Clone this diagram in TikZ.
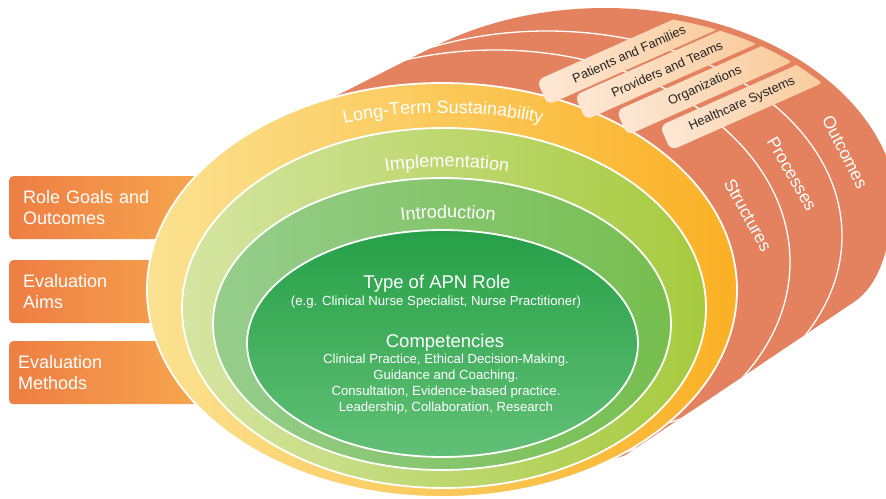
\documentclass[tikz,border=0pt]{standalone}
\usepackage{fontspec}
\setmainfont{Liberation Sans}
\usetikzlibrary{calc, decorations.text}

\definecolor{goalleft}{RGB}{238,126,68}
\definecolor{goalright}{RGB}{246,168,78}
\definecolor{cylorange}{RGB}{228,130,95}
\definecolor{tableft}{RGB}{253,232,214}
\definecolor{tabright}{RGB}{249,203,156}
\definecolor{tabtext}{RGB}{35,35,35}
\definecolor{sustleft}{RGB}{251,226,145}
\definecolor{sustright}{RGB}{251,176,36}
\definecolor{implleft}{RGB}{214,229,162}
\definecolor{implright}{RGB}{166,202,62}
\definecolor{introleft}{RGB}{150,205,140}
\definecolor{introright}{RGB}{118,190,78}
\definecolor{roletop}{RGB}{38,160,72}
\definecolor{rolebottom}{RGB}{98,192,118}

\newcommand{\ringfont}{\fontsize{18}{20}\selectfont\color{white}}

\begin{document}
\begin{tikzpicture}[x=1pt, y=-1pt,
    goalbox/.style={rectangle, rounded corners=4pt, anchor=north west, minimum width=200pt, minimum height=63pt, left color=goalleft, right color=goalright, text=white, text width=172pt, inner xsep=14pt, align=left, font=\fontsize{18}{21.5}\selectfont},
    tab/.style={rectangle, rounded corners=7pt, rotate=24, minimum width=180pt, minimum height=27pt, inner sep=0pt, left color=tableft, right color=tabright, text=tabtext, font=\fontsize{12.8}{14}\selectfont},
    layer/.style={text=white, font=\fontsize{17.5}{20}\selectfont},
    ring/.style={draw=white, line width=1.8pt},
    sep/.style={draw=white, line width=1.3pt},
    bigtext/.style={text=white, font=\fontsize{18.5}{21}\selectfont},
    smalltext/.style={text=white, align=center, font=\fontsize{13.2}{16}\selectfont}
]
\useasboundingbox (0,0) rectangle (886,498);

% boxes on the left, their right ends go under the rings
\node[goalbox] (goals) at (9,176) {Role Goals and\\Outcomes};
\node[goalbox] (aims) at (9,260) {Evaluation\\Aims};
\node[goalbox, text width=182pt, inner xsep=9pt] (methods) at (9,341) {Evaluation\\Methods};

% orange cylinder behind the rings, cut off by a straight bottom edge
\begin{scope}
  \clip (0,-10) -- (900,-10) -- (900,220) -- (890,235)
    .. controls (882,270) and (872,290) .. (853,302.7) -- (500,539) -- (0,539) -- cycle;
  \fill[cylorange] (605,214) ellipse [x radius=293, y radius=206];
  \fill[cylorange] (330,99) -- (435,46) -- (800,400) -- (607,461) -- cycle;
  \draw[sep] (547,236) ellipse [x radius=295, y radius=205];
  \draw[sep] (495,262) ellipse [x radius=295, y radius=212];
\end{scope}

% rings
\draw[ring, left color=sustleft, right color=sustright] (442,290) ellipse [x radius=295, y radius=207];
\draw[ring, left color=implleft, right color=implright] (444,308) ellipse [x radius=262, y radius=180];
\draw[ring, left color=introleft, right color=introright] (442,324) ellipse [x radius=229, y radius=146];
\draw[ring, top color=roletop, bottom color=rolebottom] (442.5,343.5) ellipse [x radius=195.5, y radius=113.5];

% ring labels along the arcs
\path[decorate, decoration={text along path, text align=center, text={|\ringfont|Long-Term Sustainability}}]
  ($(443,300)+(-125:300 and 187)$) arc [start angle=-125, end angle=-55, x radius=300, y radius=187];
\path[decorate, decoration={text along path, text align=center, text={|\ringfont|Implementation}}]
  ($(447,320)+(-120:250 and 153)$) arc [start angle=-120, end angle=-60, x radius=250, y radius=153];
\path[decorate, decoration={text along path, text align=center, text={|\ringfont|Introduction}}]
  ($(448,340)+(-120:220 and 122)$) arc [start angle=-120, end angle=-60, x radius=220, y radius=122];

% centre of the rings
\node[bigtext, anchor=base] (apn) at (437,288) {Type of APN Role};
\node[smalltext, anchor=base] (example) at (436,305) {(e.g. Clinical Nurse Specialist, Nurse Practitioner)};
\node[bigtext, anchor=base] (comp) at (445,347) {Competencies};
\node[smalltext] (complist) at (446,384) {Clinical Practice, Ethical Decision-Making.\\Guidance and Coaching.\\Consultation, Evidence-based practice.\\Leadership, Collaboration, Research};

% tabs on top of the cylinder, trimmed just inside its rim
\begin{scope}
  \clip (605,214) ellipse [x radius=287, y radius=200];
  \node[tab, minimum width=190pt] (families) at (629,54) {Patients and Families};
  \node[tab, minimum width=190pt] (teams) at (667,69) {Providers and Teams};
  \node[tab, minimum width=182pt] (orgs) at (705,86) {Organizations};
  \node[tab, minimum width=168pt] (systems) at (742,104) {Healthcare Systems};
\end{scope}

% cylinder layers
\node[layer, rotate=-61] (structures) at (748,215) {Structures};
\node[layer, rotate=-60] (processes) at (792,174) {Processes};
\node[layer, rotate=-63] (outcomes) at (845,152) {Outcomes};

\end{tikzpicture}
\end{document}
